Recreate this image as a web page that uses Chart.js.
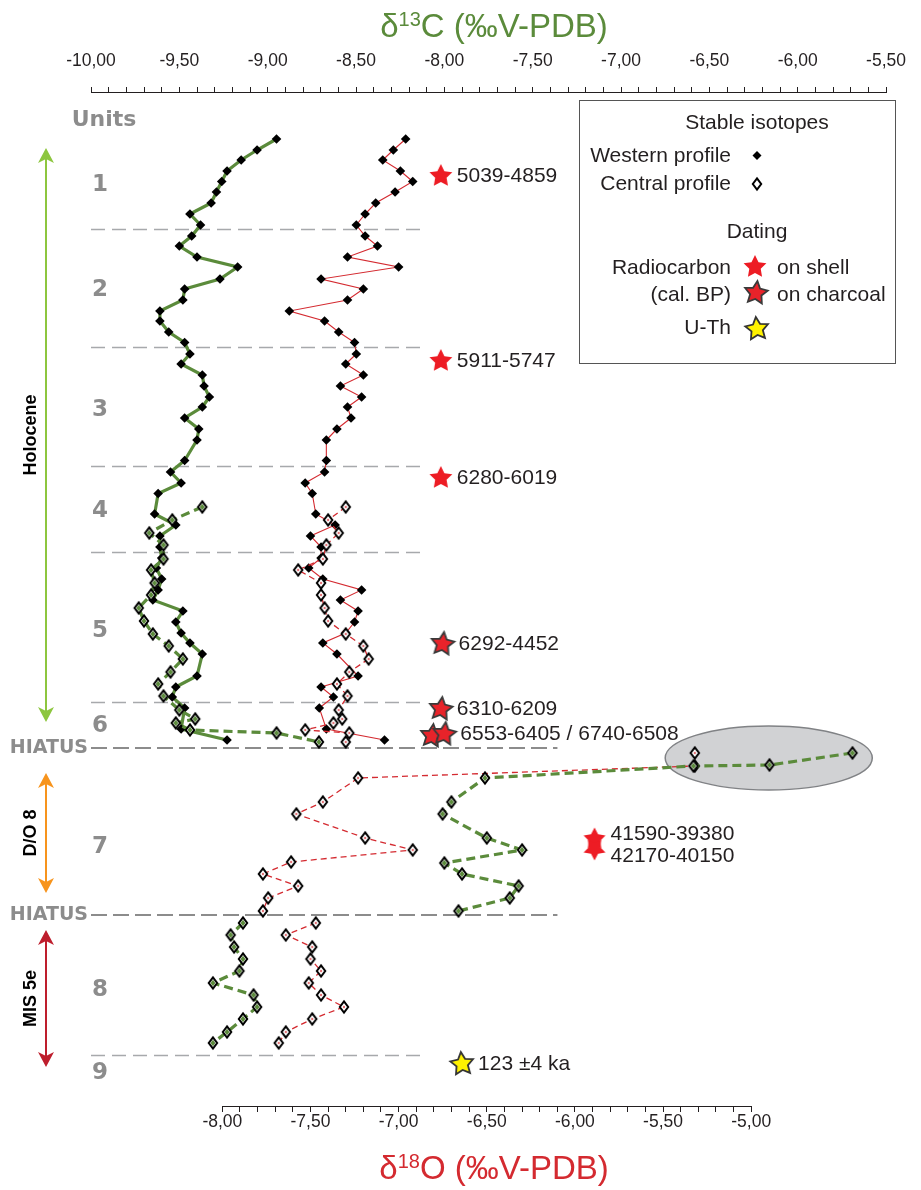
<!DOCTYPE html>
<html><head><meta charset="utf-8">
<script src="https://cdn.jsdelivr.net/npm/chart.js@4/dist/chart.umd.min.js"></script>
<style>html,body{margin:0;padding:0;background:#fff}canvas{display:block}</style>
</head><body>
<canvas id="c" width="921" height="1190" style="width:921px;height:1190px"></canvas>
<script>
// ---------------- DATA ----------------
const c13MajorTicks = [-10, -9.5, -9, -8.5, -8, -7.5, -7, -6.5, -6, -5.5];
const o18MajorTicks = [-8, -7.5, -7, -6.5, -6, -5.5, -5];

// Western profile (relative depth, arbitrary units from top of plot)
const westDepth = [47,58,68,79,89.5,100,111,122,133,144,154,165,175,187,197,208,219,229,240,250.5,262,272,283,294,305,315,326,337,348,368.5,380,391,401.5,422,433,444,455,466,476,487,498,508,519,530,541,551,562,584,595,605,616,637,648];
const westC13 = [-8.95,-9.06,-9.15,-9.23,-9.26,-9.29,-9.32,-9.44,-9.38,-9.43,-9.50,-9.40,-9.17,-9.27,-9.47,-9.48,-9.61,-9.61,-9.56,-9.47,-9.44,-9.49,-9.37,-9.36,-9.33,-9.37,-9.47,-9.39,-9.40,-9.47,-9.55,-9.49,-9.62,-9.64,-9.52,-9.61,-9.61,-9.60,-9.63,-9.60,-9.62,-9.65,-9.48,-9.52,-9.49,-9.44,-9.37,-9.40,-9.52,-9.54,-9.47,-9.49,-9.23];
const westO18 = [-6.96,-7.03,-7.09,-6.99,-6.92,-7.02,-7.13,-7.19,-7.24,-7.19,-7.12,-7.29,-7.00,-7.44,-7.20,-7.29,-7.62,-7.42,-7.34,-7.25,-7.24,-7.30,-7.20,-7.33,-7.21,-7.29,-7.27,-7.35,-7.41,-7.41,-7.42,-7.53,-7.49,-7.47,-7.36,-7.50,-7.44,-7.44,-7.51,-7.43,-7.21,-7.33,-7.23,-7.25,-7.30,-7.43,-7.35,-7.23,-7.44,-7.37,-7.45,-7.41,-7.08];

// Central profile, Holocene (units 4-6)
const centHolDepth = [415,428,441,453,467,478,491,503,516,529,542,554,567,580,592,604,618,627,631,638,641,650];
const centHolC13 = [-9.37,-9.54,-9.67,-9.59,-9.59,-9.66,-9.64,-9.66,-9.73,-9.70,-9.65,-9.56,-9.48,-9.55,-9.62,-9.59,-9.50,-9.41,-9.52,-9.44,-8.95,-8.71];
const centHolO18 = [-7.30,-7.40,-7.34,-7.41,-7.43,-7.57,-7.44,-7.44,-7.42,-7.40,-7.30,-7.20,-7.17,-7.28,-7.35,-7.29,-7.34,-7.32,-7.37,-7.53,-7.28,-7.30];

// Central profile, unit 7 (D/O 8)
const centU7C13Depth = [661,673,674,686,710,722,746,758,771,782,794,806,819];
const centU7C13 = [-5.69,-6.16,-6.59,-7.77,-7.96,-8.01,-7.76,-7.56,-8.00,-7.90,-7.58,-7.63,-7.92];
const centU7O18Depth = [661,674,686,710,722,746,758,770,782,794,806,819];
const centU7O18 = [-5.32,-5.32,-7.23,-7.43,-7.58,-7.19,-6.92,-7.61,-7.77,-7.57,-7.74,-7.77];

// Central profile, unit 8 (MIS 5e)
const centU8Depth = [831,843,855,867,879,891,903,915,927,940,951];
const centU8C13 = [-9.14,-9.21,-9.19,-9.14,-9.16,-9.31,-9.08,-9.06,-9.14,-9.23,-9.31];
const centU8O18 = [-7.47,-7.64,-7.49,-7.50,-7.44,-7.51,-7.44,-7.31,-7.49,-7.64,-7.68];

// Units and periods
const unitNames = ['1','2','3','4','5','6','7','8','9'];
const unitLabelDepth = [93,198,318,419,539,634,755,898,981];
const unitBoundaryDepth = [137,255,374,460,610,963];
const hiatusDepth = [656,823];
const periodNames = ['Holocene','D/O 8','MIS 5e'];
const periodTop = [56,681,838];
const periodBottom = [630,801,975];
const periodColors = ['#8dc63f','#f7941d','#be1e2d'];

// Dating (positions along δ13C axis and depth)
const datingKind  = ['shell','shell','shell','charcoal','charcoal','charcoal','charcoal','burst','uth'];
const datingC13   = [-8.02,-8.02,-8.02,-8.01,-8.02,-8.07,-8.00,-7.15,-7.90];
const datingDepth = [83,268,385,551,616,643,641,752,971];
const datingLabel = ['5039-4859','5911-5747','6280-6019','6292-4452','6310-6209','','6553-6405 / 6740-6508','41590-39380\n42170-40150','123 ±4 ka'];

// Outlier ellipse (δ13C units / depth)
const ellipseC13 = -6.164, ellipseHalfC13 = 0.586, ellipseDepth = 666, ellipseHalfDepth = 32;
const boundaryEndC13 = -8.11, hiatusEndC13 = -7.36;

// ---------------- STYLE HELPERS ----------------
const GREEN = '#5b8b3b', RED = '#d42a30', TXT = '#231f20', GREY = '#8c8c8c';
const SANS = "'Liberation Sans', Arial, sans-serif";

function starPath(g, cx, cy, R, r, n, rot) {
  g.beginPath();
  for (let i = 0; i < 2 * n; i++) {
    const rad = (i % 2 === 0) ? R : r;
    const a = rot + i * Math.PI / n - Math.PI / 2;
    const x = cx + rad * Math.cos(a), y = cy + rad * Math.sin(a);
    if (i) g.lineTo(x, y); else g.moveTo(x, y);
  }
  g.closePath();
}
function makeStar(fill, stroke, R, rot) {
  const c = document.createElement('canvas'); c.width = 32; c.height = 32;
  const g = c.getContext('2d');
  starPath(g, 16, 17, R, R * 0.5, 5, rot);
  g.fillStyle = fill; g.fill();
  if (stroke) { g.lineWidth = 1.8; g.strokeStyle = stroke; g.lineJoin = 'miter'; g.stroke(); }
  return c;
}
function makeBurst(fill) {
  const c = document.createElement('canvas'); c.width = 32; c.height = 40;
  const g = c.getContext('2d');
  g.fillStyle = fill;
  starPath(g, 16, 15, 11.5, 6, 5, 0); g.fill();
  starPath(g, 16, 25, 11.5, 6, 5, Math.PI); g.fill();
  return c;
}
function makeDiamond(inner, iw, ih) {
  const c = document.createElement('canvas'); c.width = 16; c.height = 20;
  const g = c.getContext('2d');
  const cx = 8, cy = 10, w = 4.2, h = 5.6;
  g.beginPath(); g.moveTo(cx, cy - h); g.lineTo(cx + w, cy); g.lineTo(cx, cy + h); g.lineTo(cx - w, cy); g.closePath();
  g.fillStyle = '#fff'; g.fill();
  if (inner) {
    g.beginPath(); g.moveTo(cx, cy - ih); g.lineTo(cx + iw, cy); g.lineTo(cx, cy + ih); g.lineTo(cx - iw, cy); g.closePath();
    g.fillStyle = inner; g.fill();
  }
  g.beginPath(); g.moveTo(cx, cy - h); g.lineTo(cx + w, cy); g.lineTo(cx, cy + h); g.lineTo(cx - w, cy); g.closePath();
  g.lineWidth = 2; g.strokeStyle = '#000'; g.stroke();
  return c;
}
const starImgs = {
  shell: makeStar('#ed1c24', null, 12, 0),
  charcoal: makeStar('#e8232a', '#3a3a3a', 12, 0.12),
  burst: makeBurst('#ed1c24'),
  uth: makeStar('#fff200', '#333333', 12, -0.1)
};
const diamondGreen = makeDiamond(GREEN, 2.4, 3.2);
const diamondRed = makeDiamond(RED, 1.0, 1.6);
const diamondWhite = makeDiamond(null);

function pts(xs, ys) { return xs.map((v, i) => ({ x: v, y: ys[i] })); }

const westCommon = { showLine: true, pointStyle: 'rectRot', pointRadius: 4.8, pointBackgroundColor: '#000', pointBorderColor: '#000', pointBorderWidth: 0, tension: 0, yAxisID: 'y', order: 3 };
const centGreen = { showLine: true, borderColor: GREEN, borderWidth: 3.2, borderDash: [9, 5], pointStyle: diamondGreen, pointRadius: 6, tension: 0, xAxisID: 'x', yAxisID: 'y', order: 2 };
const centRed = { showLine: true, borderColor: RED, borderWidth: 1.3, borderDash: [6, 4], pointStyle: diamondRed, pointRadius: 6, tension: 0, xAxisID: 'x2', yAxisID: 'y', order: 2 };

const datasets = [
  Object.assign({ label: 'Western δ13C', data: pts(westC13, westDepth), xAxisID: 'x', borderColor: GREEN, borderWidth: 3.2 }, westCommon),
  Object.assign({ label: 'Western δ18O', data: pts(westO18, westDepth), xAxisID: 'x2', borderColor: RED, borderWidth: 1.1 }, westCommon),
  Object.assign({ label: 'Central δ13C Holocene', data: pts(centHolC13, centHolDepth) }, centGreen),
  Object.assign({ label: 'Central δ18O Holocene', data: pts(centHolO18, centHolDepth) }, centRed),
  Object.assign({ label: 'Central δ13C unit 7', data: pts(centU7C13, centU7C13Depth) }, centGreen),
  Object.assign({ label: 'Central δ18O unit 7', data: pts(centU7O18, centU7O18Depth) }, centRed),
  Object.assign({ label: 'Central δ13C unit 8', data: pts(centU8C13, centU8Depth) }, centGreen),
  Object.assign({ label: 'Central δ18O unit 8', data: pts(centU8O18, centU8Depth) }, centRed),
  { label: 'Dating', data: pts(datingC13, datingDepth), xAxisID: 'x', yAxisID: 'y', showLine: false,
    pointStyle: datingKind.map(k => starImgs[k]), pointRadius: 8, order: 1 }
];
const DATING_INDEX = datasets.length - 1;

function minorTicks(lo, hi) {
  const out = [];
  const n = Math.round((hi - lo) * 10);
  for (let i = 0; i <= n; i++) out.push({ value: Math.round((lo + i * 0.1) * 10) / 10 });
  return out;
}
function fmt(v, majors) {
  return majors.some(m => Math.abs(m - v) < 1e-6) ? v.toFixed(2).replace('.', ',') : '';
}

function drawTitle(ctx, cx, baseline, main, sup, rest, color) {
  const big = '33px ' + SANS, small = '20px ' + SANS;
  ctx.font = big; const w1 = ctx.measureText(main).width; const w3 = ctx.measureText(rest).width;
  ctx.font = small; const w2 = ctx.measureText(sup).width;
  let x = cx - (w1 + w2 + w3) / 2;
  ctx.fillStyle = color; ctx.textAlign = 'left'; ctx.textBaseline = 'alphabetic';
  ctx.font = big; ctx.fillText(main, x, baseline); x += w1;
  ctx.font = small; ctx.fillText(sup, x, baseline - 11); x += w2;
  ctx.font = big; ctx.fillText(rest, x, baseline);
}
function arrowV(ctx, x, y1, y2, color) {
  ctx.save();
  ctx.strokeStyle = color; ctx.fillStyle = color; ctx.lineWidth = 2;
  ctx.beginPath(); ctx.moveTo(x, y1 + 10); ctx.lineTo(x, y2 - 10); ctx.stroke();
  ctx.beginPath(); ctx.moveTo(x, y1); ctx.lineTo(x - 8, y1 + 15); ctx.lineTo(x, y1 + 11); ctx.lineTo(x + 8, y1 + 15); ctx.closePath(); ctx.fill();
  ctx.beginPath(); ctx.moveTo(x, y2); ctx.lineTo(x - 8, y2 - 15); ctx.lineTo(x, y2 - 11); ctx.lineTo(x + 8, y2 - 15); ctx.closePath(); ctx.fill();
  ctx.restore();
}

const decor = {
  id: 'decor',
  beforeDatasetsDraw(chart) {
    const ctx = chart.ctx, xs = chart.scales.x, ys = chart.scales.y, x2 = chart.scales.x2;
    const left = chart.chartArea.left;
    ctx.save();
    // ellipse around outliers
    const cx = xs.getPixelForValue(ellipseC13), rx = xs.getPixelForValue(ellipseC13 + ellipseHalfC13) - cx;
    const cy = ys.getPixelForValue(ellipseDepth), ry = ys.getPixelForValue(ellipseDepth + ellipseHalfDepth) - cy;
    ctx.beginPath(); ctx.ellipse(cx, cy, rx, Math.abs(ry), 0, 0, Math.PI * 2);
    ctx.fillStyle = '#d1d2d4'; ctx.fill(); ctx.lineWidth = 1.5; ctx.strokeStyle = '#808285'; ctx.stroke();
    // unit boundaries
    ctx.setLineDash([14, 7]); ctx.lineWidth = 1.4; ctx.strokeStyle = '#a7a9ac';
    unitBoundaryDepth.forEach(d => {
      const y = Math.round(ys.getPixelForValue(d)) + 0.5;
      ctx.beginPath(); ctx.moveTo(left, y); ctx.lineTo(xs.getPixelForValue(boundaryEndC13), y); ctx.stroke();
    });
    ctx.setLineDash([16, 6]); ctx.lineWidth = 2.2; ctx.strokeStyle = '#8c8c8c';
    hiatusDepth.forEach(d => {
      const y = ys.getPixelForValue(d);
      ctx.beginPath(); ctx.moveTo(left, y); ctx.lineTo(xs.getPixelForValue(hiatusEndC13), y); ctx.stroke();
    });
    ctx.setLineDash([]);
    // bottom axis line (only between -8 and -5)
    const yb = Math.round(chart.chartArea.bottom) + 0.5;
    ctx.strokeStyle = TXT; ctx.lineWidth = 1;
    ctx.beginPath(); ctx.moveTo(x2.getPixelForValue(o18MajorTicks[0]), yb);
    ctx.lineTo(x2.getPixelForValue(o18MajorTicks[o18MajorTicks.length - 1]), yb); ctx.stroke();
    ctx.restore();
  },
  afterDraw(chart) {
    const ctx = chart.ctx, ys = chart.scales.y;
    ctx.save();
    // axis titles
    drawTitle(ctx, 494, 37, 'δ', '13', 'C (‰V-PDB)', GREEN);
    drawTitle(ctx, 494, 1179, 'δ', '18', 'O (‰V-PDB)', RED);
    // units
    ctx.fillStyle = GREY; ctx.textBaseline = 'middle';
    ctx.font = "bold 22px 'DejaVu Sans', sans-serif"; ctx.textAlign = 'center';
    ctx.fillText('Units', 104, ys.getPixelForValue(28));
    ctx.font = "bold 23px 'DejaVu Sans', sans-serif";
    unitNames.forEach((u, i) => ctx.fillText(u, 100, ys.getPixelForValue(unitLabelDepth[i])));
    ctx.font = "bold 19px 'DejaVu Sans', sans-serif"; ctx.textAlign = 'right';
    hiatusDepth.forEach(d => ctx.fillText('HIATUS', 88, ys.getPixelForValue(d)));
    // periods
    periodNames.forEach((p, i) => {
      const y1 = ys.getPixelForValue(periodTop[i]), y2 = ys.getPixelForValue(periodBottom[i]);
      arrowV(ctx, 46, y1, y2, periodColors[i]);
      ctx.save();
      ctx.translate(31, (y1 + y2) / 2); ctx.rotate(-Math.PI / 2);
      ctx.fillStyle = '#000'; ctx.textAlign = 'center'; ctx.textBaseline = 'middle';
      ctx.font = "bold 18px 'Liberation Sans Narrow', 'Liberation Sans', sans-serif";
      ctx.fillText(p, 0, 0);
      ctx.restore();
    });
    // dating labels
    const meta = chart.getDatasetMeta(DATING_INDEX);
    ctx.fillStyle = TXT; ctx.font = '21px ' + SANS; ctx.textAlign = 'left'; ctx.textBaseline = 'middle';
    meta.data.forEach((el, i) => {
      if (!datingLabel[i]) return;
      const lines = datingLabel[i].split('\n');
      lines.forEach((t, k) => {
        const off = (k - (lines.length - 1) / 2) * 21.5;
        ctx.fillText(t, el.x + 16, el.y + 1 + off);
      });
    });
    // legend box
    ctx.strokeStyle = '#555'; ctx.lineWidth = 1;
    ctx.strokeRect(579.5, 100.5, 316, 263);
    ctx.fillStyle = TXT; ctx.font = '21px ' + SANS;
    ctx.textAlign = 'center';
    ctx.fillText('Stable isotopes', 757, 123);
    ctx.fillText('Dating', 757, 232);
    ctx.textAlign = 'right';
    ctx.fillText('Western profile', 731, 156);
    ctx.fillText('Central profile', 731, 184);
    ctx.fillText('Radiocarbon', 731, 268);
    ctx.fillText('(cal. BP)', 731, 295);
    ctx.fillText('U-Th', 731, 328);
    ctx.textAlign = 'left';
    ctx.fillText('on shell', 777, 268);
    ctx.fillText('on charcoal', 777, 295);
    // legend markers
    ctx.fillStyle = '#000';
    ctx.beginPath(); ctx.moveTo(757, 151); ctx.lineTo(761.5, 155.5); ctx.lineTo(757, 160); ctx.lineTo(752.5, 155.5); ctx.closePath(); ctx.fill();
    ctx.drawImage(diamondWhite, 757 - 8, 184 - 10);
    ctx.drawImage(starImgs.shell, 755 - 16, 266 - 16);
    ctx.drawImage(starImgs.charcoal, 756 - 16, 292 - 16);
    ctx.drawImage(starImgs.uth, 757 - 16, 328 - 16);
    ctx.restore();
  }
};

new Chart(document.getElementById('c'), {
  type: 'scatter',
  data: { datasets },
  options: {
    responsive: false, animation: false, events: [],
    layout: { padding: { left: 91, right: 24, top: 0, bottom: 0 } },
    plugins: { legend: { display: false }, tooltip: { enabled: false } },
    scales: {
      x: {
        type: 'linear', position: 'top', min: -10, max: -5.5,
        afterBuildTicks: s => { s.ticks = minorTicks(-10, -5.5); },
        afterFit: s => { s.height = 92; },
        grid: { drawOnChartArea: false, drawTicks: true, tickLength: 5, color: TXT, tickColor: TXT },
        border: { display: true, color: TXT, width: 1 },
        ticks: { autoSkip: false, maxRotation: 0, minRotation: 0, padding: 15, color: TXT,
          font: { family: 'Liberation Sans', size: 17.5 }, callback: v => fmt(v, c13MajorTicks) }
      },
      x2: {
        type: 'linear', position: 'bottom', min: -8.745, max: -4.235,
        afterBuildTicks: s => { s.ticks = minorTicks(-8, -5); },
        afterFit: s => { s.height = 84; },
        grid: { drawOnChartArea: false, drawTicks: true, tickLength: 6, color: TXT, tickColor: TXT },
        border: { display: false },
        ticks: { autoSkip: false, maxRotation: 0, minRotation: 0, padding: 0, color: TXT,
          font: { family: 'Liberation Sans', size: 17.5 }, callback: v => fmt(v, o18MajorTicks) }
      },
      y: { type: 'linear', display: false, min: 0, max: 1014, reverse: true }
    }
  },
  plugins: [decor]
});
</script>
</body></html>
